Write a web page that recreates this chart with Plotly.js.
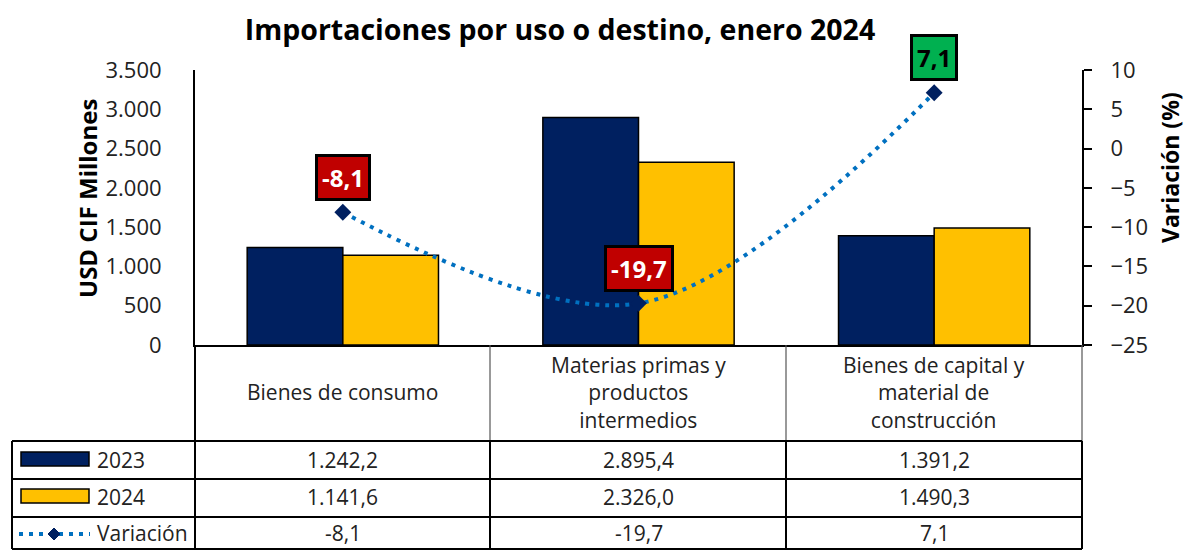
<!DOCTYPE html>
<html>
<head>
<meta charset="utf-8">
<script src="https://cdn.plot.ly/plotly-3.0.1.min.js"></script>
<style>html,body{margin:0;padding:0;background:#fff;}#chart{width:1187px;height:550px;}</style>
</head>
<body>
<div id="chart"></div>
<script>
// ---- data ----
const categories = ["Bienes de consumo", "Materias primas y productos intermedios", "Bienes de capital y material de construcción"];
const categoryLabels = ["Bienes de consumo", "Materias primas y<br>productos<br>intermedios", "Bienes de capital y<br>material de<br>construcción"];
const values2023 = [1242.2, 2895.4, 1391.2];
const values2024 = [1141.6, 2326.0, 1490.3];
const variation = [-8.1, -19.7, 7.1];
const seriesNames = ["2023", "2024", "Variación"];

// ---- geometry helpers (pixel -> paper) ----
const W = 1187, H = 550, L = 195, R = 1082, T = 70, B = 345;
const px = x => (x - L) / (R - L);
const py = y => (B - y) / (B - T);
const FONT = "Open Sans, sans-serif";
const TXT = 21;

function fmt(v) {
  const s = Math.abs(v).toFixed(1).split(".");
  const intPart = s[0].replace(/\B(?=(\d{3})+(?!\d))/g, ".");
  return (v < 0 ? "-" : "") + intPart + "," + s[1];
}

const traces = [
  { type: "bar", name: seriesNames[0], x: categories, y: values2023,
    marker: { color: "#002060", line: { color: "#000", width: 1.5 } }, hoverinfo: "y" },
  { type: "bar", name: seriesNames[1], x: categories, y: values2024,
    marker: { color: "#FFC000", line: { color: "#000", width: 1.5 } }, hoverinfo: "y" },
  { type: "scatter", mode: "lines+markers", name: seriesNames[2], x: categories, y: variation, yaxis: "y2",
    line: { color: "#0070C0", width: 4, dash: "4px,6px", shape: "spline", smoothing: 1 },
    marker: { symbol: "diamond", size: 13, color: "#002060" }, hoverinfo: "y" }
];

const shapes = [];
const annotations = [];
const lineBlack = { color: "#000", width: 2 };
const lineGrey = { color: "#555", width: 1.2 };

const rowLines = [441, 479, 517, 549];
[195, 490, 786, 1082].forEach((x, i) => {
  shapes.push({ type: "line", xref: "paper", yref: "paper", x0: px(x), x1: px(x), y0: py(345), y1: py(441),
    line: (i === 0) ? lineBlack : lineGrey, layer: "above" });
  shapes.push({ type: "line", xref: "paper", yref: "paper", x0: px(x), x1: px(x), y0: py(441), y1: py(549),
    line: lineBlack, layer: "above" });
});
shapes.push({ type: "line", xref: "paper", yref: "paper", x0: px(12), x1: px(12), y0: py(441), y1: py(549), line: lineBlack });
rowLines.forEach(y => {
  shapes.push({ type: "line", xref: "paper", yref: "paper", x0: px(12), x1: px(1082), y0: py(y), y1: py(y), line: lineBlack });
});

// header category labels
categories.forEach((c, i) => {
  annotations.push({ x: c, xref: "x", y: py(392), yref: "paper", text: categoryLabels[i], showarrow: false,
    font: { family: FONT, size: TXT, color: "#222" }, yanchor: "middle", align: "center" });
});

// table values
const rowCenters = [460, 497, 533];
const rowData = [values2023, values2024, variation];
rowData.forEach((arr, r) => {
  arr.forEach((v, i) => {
    annotations.push({ x: categories[i], xref: "x", y: py(rowCenters[r]), yref: "paper", text: fmt(v), showarrow: false,
      font: { family: FONT, size: TXT, color: "#222" }, yanchor: "middle" });
  });
  annotations.push({ x: px(95), xref: "paper", y: py(rowCenters[r]), yref: "paper", text: seriesNames[r], showarrow: false,
    xanchor: "left", yanchor: "middle", font: { family: FONT, size: TXT, color: "#222" } });
});

// legend keys
shapes.push({ type: "rect", xref: "paper", yref: "paper", x0: px(21), x1: px(89), y0: py(452), y1: py(466),
  fillcolor: "#002060", line: { color: "#000", width: 1.5 } });
shapes.push({ type: "rect", xref: "paper", yref: "paper", x0: px(21), x1: px(89), y0: py(489), y1: py(503),
  fillcolor: "#FFC000", line: { color: "#000", width: 1.5 } });
shapes.push({ type: "line", xref: "paper", yref: "paper", x0: px(19), x1: px(90), y0: py(534), y1: py(534),
  line: { color: "#0070C0", width: 4, dash: "4px,6px" } });
{
  const cx = 54, cy = 534, d = 6;
  const p = (x, y) => px(x) + "," + py(y);
  shapes.push({ type: "path", xref: "paper", yref: "paper",
    path: "M" + p(cx, cy - d) + " L" + p(cx + d, cy) + " L" + p(cx, cy + d) + " L" + p(cx - d, cy) + " Z",
    fillcolor: "#002060", line: { color: "#002060", width: 1 } });
}

// data labels for variation
variation.forEach((v, i) => {
  const pos = v >= 0;
  annotations.push({ x: categories[i], xref: "x", y: v, yref: "y2", text: "<b>" + fmt(v) + "</b>", showarrow: false,
    yshift: 35, bgcolor: pos ? "#00B050" : "#C00000", bordercolor: "#000", borderwidth: 3, borderpad: 4,
    font: { family: FONT, size: 24, color: pos ? "#000" : "#fff" } });
});

// axis titles
annotations.push({ x: px(87), xref: "paper", y: py(199), yref: "paper", text: "<b>USD CIF Millones</b>", textangle: -90,
  showarrow: false, xanchor: "center", yanchor: "middle", font: { family: FONT, size: 24, color: "#000" } });
annotations.push({ x: px(1170), xref: "paper", y: py(168), yref: "paper", text: "<b>Variación (%)</b>", textangle: -90,
  showarrow: false, xanchor: "center", yanchor: "middle", font: { family: FONT, size: 23, color: "#000" } });

const layout = {
  width: W, height: H,
  margin: { l: L, r: W - R, t: T, b: H - B, pad: 0 },
  paper_bgcolor: "#fff", plot_bgcolor: "#fff",
  separators: ",.",
  font: { family: FONT, color: "#222" },
  showlegend: false,
  barmode: "group", bargap: 0.353, bargroupgap: 0,
  title: { text: "<b>Importaciones por uso o destino, enero 2024</b>", x: 560 / W, xref: "container", xanchor: "center",
    y: 1 - 30 / H, yref: "container", yanchor: "middle", font: { family: FONT, size: 28.5, color: "#000" } },
  xaxis: { type: "category", showticklabels: false, ticks: "", showgrid: false, zeroline: false,
    showline: true, linecolor: "#000", linewidth: 2, fixedrange: true },
  yaxis: { range: [0, 3500], dtick: 500, tickformat: ",", showgrid: false, zeroline: false,
    showline: true, linecolor: "#000", linewidth: 2, ticks: "", ticklabelstandoff: 27,
    tickfont: { family: FONT, size: 22, color: "#222" } },
  yaxis2: { overlaying: "y", side: "right", range: [-25, 10], dtick: 5, showgrid: false, zeroline: false,
    showline: true, linecolor: "#000", linewidth: 2, ticks: "outside", ticklen: 8, tickwidth: 2, tickcolor: "#000",
    ticklabelstandoff: 14, tickfont: { family: FONT, size: 22, color: "#222" } },
  shapes: shapes,
  annotations: annotations
};

Plotly.newPlot("chart", traces, layout, { displayModeBar: false, staticPlot: true });
</script>
</body>
</html>
